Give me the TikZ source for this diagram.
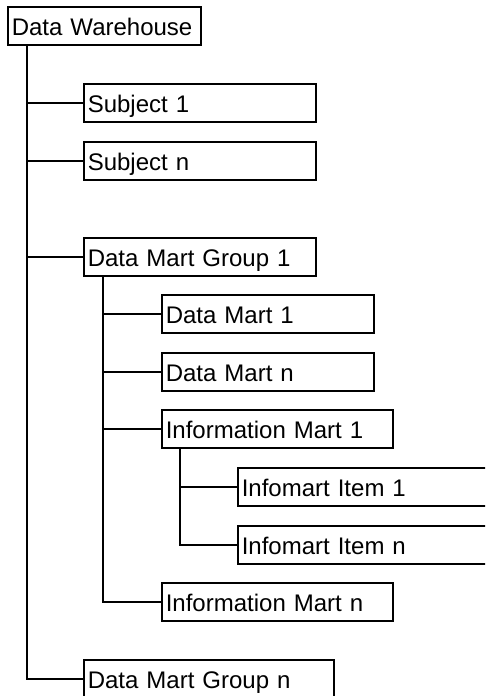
\documentclass[tikz,border=0pt]{standalone}
\usepackage{fontspec}
\setmainfont{Liberation Sans}
\begin{document}
\begin{tikzpicture}[x=1pt,y=1pt,
  box/.style={draw, line width=1.6pt, anchor=north west, inner xsep=4pt, inner ysep=0pt,
    text height=28.5pt, text depth=9.5pt, text width=#1-8pt, align=left,
    font=\fontsize{24}{28}\selectfont},
  link/.style={line width=1.6pt}]
\useasboundingbox (0,0) rectangle (485,-696);
\clip (0,0) rectangle (485,-696);
\node[box=193] (dw)  at (7,-6)    {Data Warehouse};
\node[box=232] (s1)  at (83,-83)  {Subject 1};
\node[box=232] (sn)  at (83,-141) {Subject n};
\node[box=232] (g1)  at (83,-237) {Data Mart Group 1};
\node[box=212] (dm1) at (161,-294) {Data Mart 1};
\node[box=212] (dmn) at (161,-352) {Data Mart n};
\node[box=231] (im1) at (161,-409) {Information Mart 1};
\node[box=270] (ii1) at (237,-467) {Infomart Item 1};
\node[box=270] (iin) at (237,-525) {Infomart Item n};
\node[box=231] (imn) at (161,-582) {Information Mart n};
\node[box=250] (gn)  at (83,-659) {Data Mart Group n};
\coordinate (t0) at ([xshift=20pt]dw.south west);
\coordinate (t1) at ([xshift=20pt]g1.south west);
\coordinate (t2) at ([xshift=19pt]im1.south west);
\draw[link] (t0) |- (gn.west);
\draw[link] (t0) |- (s1.west);
\draw[link] (t0) |- (sn.west);
\draw[link] (t0) |- (g1.west);
\draw[link] (t1) |- (imn.west);
\draw[link] (t1) |- (dm1.west);
\draw[link] (t1) |- (dmn.west);
\draw[link] (t1) |- (im1.west);
\draw[link] (t2) |- (iin.west);
\draw[link] (t2) |- (ii1.west);
\end{tikzpicture}
\end{document}
